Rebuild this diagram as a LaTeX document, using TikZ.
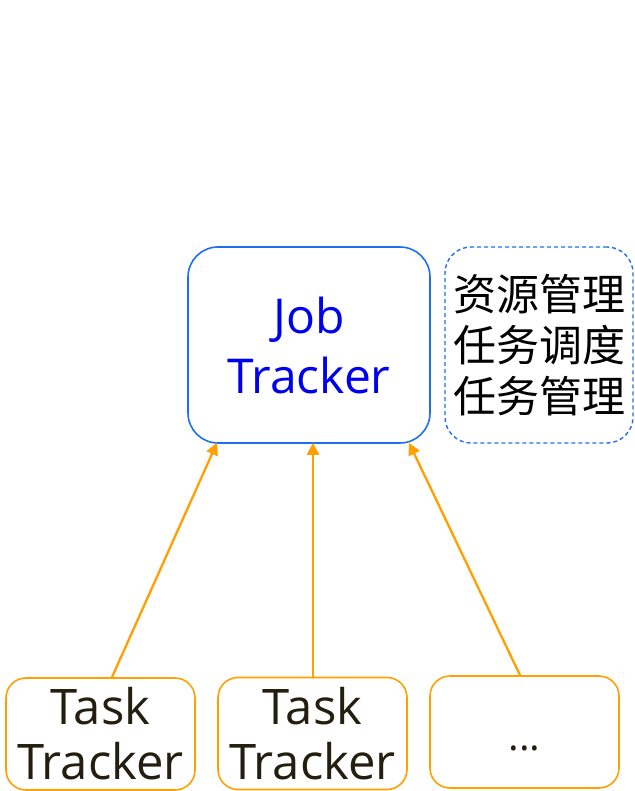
\documentclass[tikz,border=0pt]{standalone}
\usepackage{fontspec}
\setmainfont{Open Sans}
\newfontfamily\cjk{Noto Sans CJK SC}
\usetikzlibrary{arrows.meta,calc}
\definecolor{jtblue}{RGB}{30,110,240}
\definecolor{jttext}{RGB}{0,0,240}
\definecolor{ttorange}{RGB}{255,160,0}
\definecolor{tttext}{RGB}{35,30,15}
\tikzset{
  jobbox/.style={draw=jtblue, line width=1.6pt, rounded corners=30pt, minimum width=242pt, minimum height=196pt, align=center, text=jttext, font=\fontsize{48}{60}\selectfont},
  notebox/.style={draw=jtblue, line width=1.4pt, dashed, dash pattern=on 4pt off 3pt, rounded corners=26pt, minimum width=188pt, minimum height=196pt, align=center, font=\cjk\fontsize{43}{51}\selectfont},
  taskbox/.style={draw=ttorange, line width=1.6pt, rounded corners=20pt, minimum width=189pt, minimum height=112pt, align=center, text=tttext, font=\fontsize{49}{55}\selectfont, inner sep=0pt},
  link/.style={draw=ttorange, line width=2.3pt, -{Triangle[length=12pt,width=12pt]}}
}
\begin{document}
\begin{tikzpicture}[x=1pt,y=-1pt]
\useasboundingbox (0,0) rectangle (634,791);
\node[jobbox] (jt) at (309,345) {Job\\Tracker};
\node[notebox] (note) at (539,345) {资源管理\\任务调度\\任务管理};
\node[taskbox] (t1) at (100.5,734) {Task\\Tracker};
\node[taskbox] (t2) at (312.5,733.5) {Task\\Tracker};
\node[taskbox] (t3) at (524.5,732) {\smash{\raisebox{-18pt}{\fontsize{40}{40}\selectfont ...}}};
% connectors from each task tracker up to the job tracker
\draw[link] ($(t1.north)+(11.5,0)$) -- ($(jt.south)+(-92,-1)$);
\draw[link] ($(t2.north)+(0.5,0)$) -- ($(jt.south)+(4,-1)$);
\draw[link] ($(t3.north)+(-4.5,0)$) -- ($(jt.south)+(100,-1)$);
\end{tikzpicture}
\end{document}
